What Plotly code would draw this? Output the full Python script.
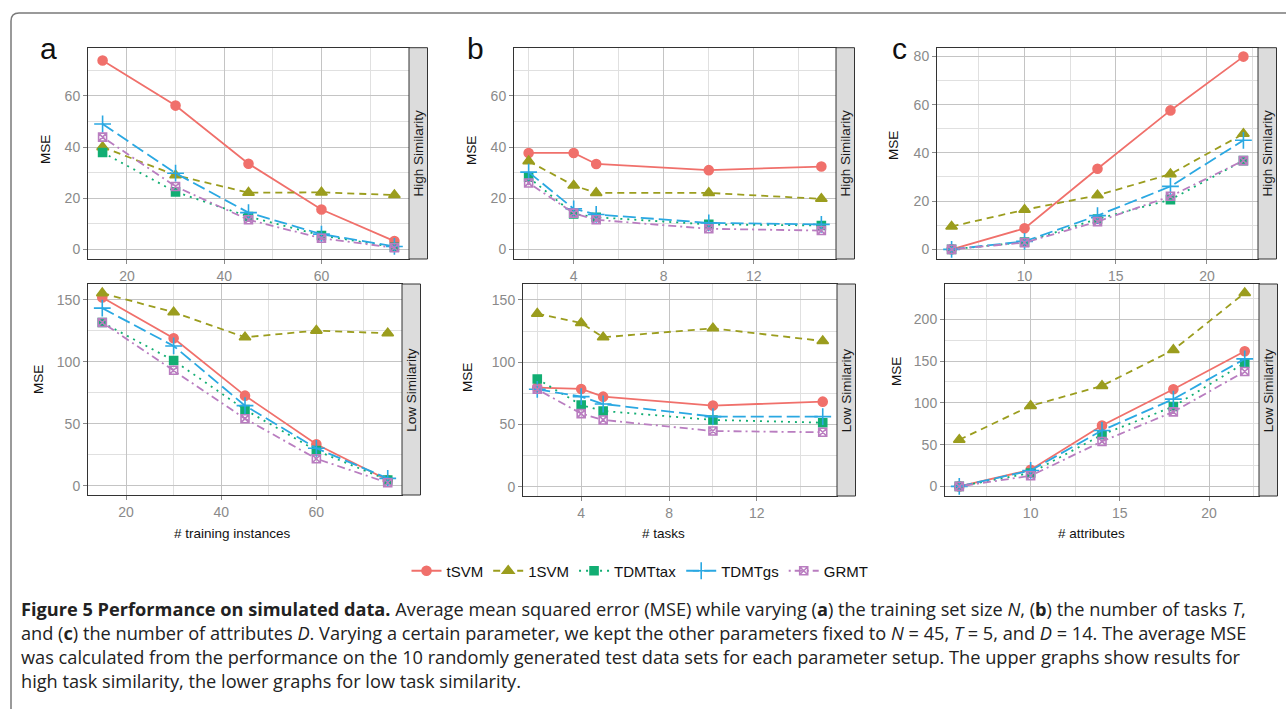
import plotly.graph_objects as go

W, H = 1286, 709

METHODS = ["tSVM", "1SVM", "TDMTtax", "TDMTgs", "GRMT"]

# x values for each experiment
N_TRAIN = [15, 30, 45, 60, 75]
N_TASKS = [2, 4, 5, 10, 15]
N_ATTR = [6, 10, 14, 18, 22]

# average MSE, (a) varying training set size
A_HIGH = {
    "tSVM":    [73.8, 56.2, 33.5, 15.6, 3.3],
    "1SVM":    [40.0, 29.0, 22.2, 22.3, 21.3],
    "TDMTtax": [37.9, 22.5, 12.9, 5.5, 0.9],
    "TDMTgs":  [49.0, 29.8, 14.4, 6.0, 1.2],
    "GRMT":    [43.9, 24.6, 11.6, 4.4, 0.7],
}
A_LOW = {
    "tSVM":    [151.9, 119.0, 72.7, 33.4, 4.6],
    "1SVM":    [155.4, 140.0, 119.8, 125.2, 123.0],
    "TDMTtax": [131.7, 101.0, 61.4, 28.3, 4.6],
    "TDMTgs":  [143.3, 112.8, 64.6, 30.2, 5.9],
    "GRMT":    [131.7, 93.2, 54.1, 21.8, 2.4],
}
# (b) varying number of tasks
B_HIGH = {
    "tSVM":    [37.7, 37.7, 33.4, 31.0, 32.4],
    "1SVM":    [34.5, 25.0, 22.1, 22.1, 19.8],
    "TDMTtax": [28.2, 13.9, 12.6, 9.8, 9.4],
    "TDMTgs":  [30.2, 15.9, 13.7, 10.4, 9.8],
    "GRMT":    [26.0, 14.2, 11.6, 8.1, 7.4],
}
B_LOW = {
    "tSVM":    [79.6, 78.5, 72.3, 65.1, 68.3],
    "1SVM":    [139.0, 131.5, 120.0, 127.2, 117.0],
    "TDMTtax": [86.5, 65.6, 60.8, 53.6, 51.4],
    "TDMTgs":  [78.2, 72.3, 66.4, 56.3, 56.3],
    "GRMT":    [78.2, 58.7, 53.6, 44.7, 43.7],
}
# (c) varying number of attributes
C_HIGH = {
    "tSVM":    [0.0, 8.7, 33.4, 57.6, 79.9],
    "1SVM":    [9.5, 16.4, 22.4, 31.2, 47.9],
    "TDMTtax": [0.0, 3.0, 12.6, 20.6, 36.8],
    "TDMTgs":  [0.0, 3.3, 14.0, 26.1, 45.2],
    "GRMT":    [0.0, 2.8, 11.5, 22.0, 36.8],
}
C_LOW = {
    "tSVM":    [0.0, 19.9, 72.9, 116.3, 161.8],
    "1SVM":    [55.8, 96.4, 120.3, 163.3, 231.5],
    "TDMTtax": [0.0, 16.0, 61.8, 95.6, 147.8],
    "TDMTgs":  [0.0, 19.1, 66.9, 104.4, 152.6],
    "GRMT":    [0.0, 12.7, 53.8, 89.2, 137.5],
}

COLORS = {"tSVM": "#F0706B", "1SVM": "#9B9D1E", "TDMTtax": "#12AE73",
          "TDMTgs": "#2AA8E2", "GRMT": "#B97DC0"}
DASHES = {"tSVM": "solid", "1SVM": "7px,5px", "TDMTtax": "2px,5px",
          "TDMTgs": "13px,5px", "GRMT": "2px,4px,8px,4px"}
SYMBOLS = {"tSVM": ("circle", 9), "1SVM": ("triangle-up", 10),
           "TDMTtax": ("square", 8), "TDMTgs": ("cross-thin-open", 12),
           "GRMT": ("square-x-open", 8)}

# panel boxes in pixels: left, right, top, bottom
PANELS = [
    dict(data=A_HIGH, x=N_TRAIN, box=(88, 409, 47.7, 259), xr=(12, 78), yr=(-3.7, 78.8),
         xt=(20, 10), yt=(20, 10), strip="High Similarity"),
    dict(data=A_LOW, x=N_TRAIN, box=(88, 402, 284, 495), xr=(12, 78), yr=(-7.5, 162.8),
         xt=(20, 10), yt=(50, 25), strip="Low Similarity"),
    dict(data=B_HIGH, x=N_TASKS, box=(514, 836, 47.7, 259), xr=(1.35, 15.65), yr=(-3.7, 78.8),
         xt=(4, 2), yt=(20, 10), strip="High Similarity"),
    dict(data=B_LOW, x=N_TASKS, box=(523, 837, 284, 496), xr=(1.35, 15.65), yr=(-7.5, 162.8),
         xt=(4, 2), yt=(50, 25), strip="Low Similarity"),
    dict(data=C_HIGH, x=N_ATTR, box=(937, 1258, 47.7, 259), xr=(5.2, 22.8), yr=(-4.0, 83.6),
         xt=(5, 2.5), yt=(20, 10), strip="High Similarity"),
    dict(data=C_LOW, x=N_ATTR, box=(945, 1259, 284, 496), xr=(5.2, 22.8), yr=(-11.5, 242.2),
         xt=(5, 2.5), yt=(50, 25), strip="Low Similarity"),
]
STRIP_W = 18.5

TXT = "Liberation Sans, Arial, Helvetica, sans-serif"
TICK_FONT = dict(family=TXT, size=14, color="#8A8A8A")
MAJOR_GRID = "#C4C4C4"
MINOR_GRID = "#E0E0E0"


def px(x):
    return x / W


def py(y):
    return 1 - y / H


def label(text, x, y, size, angle=0, color="#111111", family=TXT, anchor="center"):
    return dict(text=text, xref="paper", yref="paper", x=px(x), y=py(y),
                xanchor=anchor, yanchor="middle", showarrow=False, textangle=angle,
                font=dict(family=family, size=size, color=color))


fig = go.Figure()
layout = {}
shapes = []
annotations = []

for i, p in enumerate(PANELS):
    n = "" if i == 0 else str(i + 1)
    l, r, t, b = p["box"]
    common = dict(showline=True, linecolor="#333333", linewidth=1, mirror=True,
                  ticks="outside", ticklen=4, tickcolor="#8A8A8A", tickwidth=1,
                  showgrid=True, gridcolor=MAJOR_GRID, gridwidth=1, zeroline=False,
                  tickfont=TICK_FONT)
    layout["xaxis" + n] = dict(common, domain=[px(l), px(r)], range=list(p["xr"]),
                               anchor="y" + n, tick0=0, dtick=p["xt"][0],
                               minor=dict(dtick=p["xt"][1], tick0=0, showgrid=True,
                                          gridcolor=MINOR_GRID, gridwidth=1))
    layout["yaxis" + n] = dict(common, domain=[py(b), py(t)], range=list(p["yr"]),
                               anchor="x" + n, tick0=0, dtick=p["yt"][0],
                               minor=dict(dtick=p["yt"][1], tick0=0, showgrid=True,
                                          gridcolor=MINOR_GRID, gridwidth=1))
    for m in METHODS:
        sym, size = SYMBOLS[m]
        fig.add_trace(go.Scatter(
            x=p["x"], y=p["data"][m], mode="lines+markers", name=m,
            xaxis="x" + n, yaxis="y" + n, showlegend=(i == 0), legendgroup=m,
            line=dict(color=COLORS[m], dash=DASHES[m], width=1.8),
            marker=dict(symbol=sym, size=size, color=COLORS[m],
                        line=dict(color=COLORS[m], width=1.6)),
        ))
    # facet strip on the right
    shapes.append(dict(type="rect", xref="paper", yref="paper",
                       x0=px(r), x1=px(r + STRIP_W), y0=py(b), y1=py(t),
                       fillcolor="#DCDCDC", line=dict(color="#333333", width=1)))
    annotations.append(label(p["strip"], r + STRIP_W / 2, (t + b) / 2, 13.5, angle=-90,
                             color="#1A1A1A"))

# axis titles
for x, y in [(45, 150), (38, 380), (471, 150), (468, 378), (893, 146), (896, 372)]:
    annotations.append(label("MSE", x, y, 13.5, angle=-90))
for txt, x in [("# training instances", 232), ("# tasks", 663), ("# attributes", 1091)]:
    annotations.append(label(txt, x, 533, 13.5))

# panel letters
for txt, x in [("a", 48), ("b", 475), ("c", 899)]:
    annotations.append(label(txt, x, 48, 30))

# caption
CAPTION = [
    "<b>Figure 5 Performance on simulated data.</b> Average mean squared error (MSE) while varying "
    "(<b>a</b>) the training set size <i>N</i>, (<b>b</b>) the number of tasks <i>T</i>,",
    "and (<b>c</b>) the number of attributes <i>D</i>. Varying a certain parameter, we kept the other "
    "parameters fixed to <i>N</i> = 45, <i>T</i> = 5, and <i>D</i> = 14. The average MSE",
    "was calculated from the performance on the 10 randomly generated test data sets for each "
    "parameter setup. The upper graphs show results for",
    "high task similarity, the lower graphs for low task similarity.",
]
for k, line in enumerate(CAPTION):
    annotations.append(label(line, 19, 609 + 24 * k, 18.2, color="#222222",
                             family="Open Sans, sans-serif", anchor="left"))

# outer frame with rounded top-left corner
shapes.append(dict(type="path", xref="paper", yref="paper",
                   path=f"M {px(11)} {py(709)} L {px(11)} {py(21)} "
                        f"Q {px(11)} {py(13)} {px(19)} {py(13)} L {px(1286)} {py(13)}",
                   line=dict(color="#7A7A7A", width=1.5)))

fig.update_layout(
    **layout,
    width=W, height=H, margin=dict(l=0, r=0, t=0, b=0),
    paper_bgcolor="white", plot_bgcolor="white",
    shapes=shapes, annotations=annotations,
    legend=dict(orientation="h", x=px(640), xanchor="center", y=py(571), yanchor="middle",
                font=dict(family=TXT, size=15, color="#111111"), itemwidth=30,
                bgcolor="rgba(0,0,0,0)"),
)

fig.write_html("out.html")
